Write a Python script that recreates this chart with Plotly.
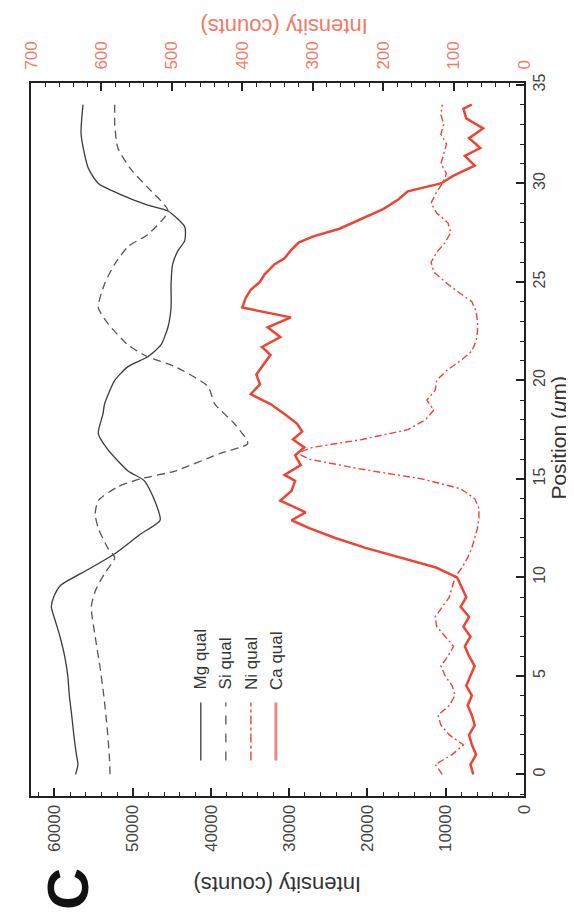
import plotly.graph_objects as go

# ---------------- data ----------------
mg_pos = [0.0, 0.5, 1.0, 1.9, 3.0, 4.0, 5.0, 6.0, 7.0, 7.8, 8.5, 9.0, 9.6, 10.4, 11.2, 12.2, 12.9,
          13.9, 14.9, 15.4, 16.5, 17.3, 18.3, 18.8, 20.0, 20.7, 21.2, 21.8, 22.7, 23.7, 24.9, 25.9,
          26.6, 27.1, 27.8, 28.6, 28.9, 29.5, 30.0, 30.8, 32.5, 34.0]
mg_val = [57300, 57000, 57200, 57500, 57800, 58100, 58300, 58700, 59300, 59900, 60400, 60100, 59200,
          55700, 52300, 49000, 46500, 47200, 48500, 50600, 53200, 54400, 53800, 53600, 52300, 50600,
          48100, 46400, 45500, 45100, 45100, 44900, 44200, 43350, 43350, 45500, 48100, 51900, 54400,
          55700, 56600, 56350]

si_pos = [0.0, 1.0, 2.5, 4.0, 5.5, 7.0, 8.5, 9.3, 10.2, 11.0, 11.5, 12.5, 13.2, 13.9, 14.6, 15.0,
          15.4, 16.3, 16.8, 17.8, 18.8, 19.7, 20.7, 21.2, 21.8, 22.9, 23.7, 24.9, 25.9, 26.8, 27.4,
          28.6, 29.8, 30.7, 31.8, 33.0, 34.0]
si_val = [52900, 53000, 53300, 53700, 54200, 54800, 55300, 54800, 53600, 52300, 53200, 54400, 54800,
          54400, 51900, 49000, 44600, 38800, 35300, 37000, 39500, 40400, 44600, 48100, 50600, 53200,
          54400, 53600, 52300, 50600, 48100, 45500, 48100, 50200, 51900, 52300, 52300]

ni_pos = [0.0, 0.5, 1.0, 1.5, 2.0, 2.5, 3.0, 3.5, 4.0, 4.5, 5.0, 5.5, 6.0, 6.5, 7.0, 7.5, 8.0, 8.5,
          9.0, 9.5, 10.0, 10.5, 11.0, 11.5, 12.0, 12.5, 13.0, 13.5, 14.0, 14.5, 15.0, 15.5, 16.0,
          16.3, 16.6, 17.0, 17.5, 18.0, 18.5, 19.0, 19.5, 20.0, 20.5, 21.0, 21.5, 22.0, 22.5, 23.0,
          23.5, 24.0, 24.5, 25.0, 25.5, 26.0, 26.5, 27.0, 27.5, 28.0, 28.5, 29.0, 29.5, 30.0, 30.5,
          31.0, 31.5, 32.0, 32.5, 33.0, 33.5, 34.0]
ni_val = [116, 126, 102, 86, 106, 118, 122, 106, 98, 102, 112, 118, 108, 100, 112, 124, 126, 116,
          106, 102, 98, 88, 80, 74, 70, 66, 64, 64, 70, 90, 145, 232, 305,
          322, 300, 230, 165, 140, 128, 138, 126, 124, 110, 90, 74, 68, 66, 66,
          68, 74, 94, 112, 128, 132, 124, 112, 104, 108, 124, 132, 125, 116, 110,
          118, 114, 110, 118, 114, 118, 116]

ca_pos = [0.0, 0.5, 1.0, 1.5, 2.0, 2.5, 3.0, 3.5, 4.0, 4.5, 5.0, 5.5, 6.0, 6.5, 7.0, 7.5, 8.0, 8.5,
          9.0, 9.5, 10.0, 10.5, 11.0, 11.5, 12.0, 12.5, 12.9, 13.3, 13.9, 14.4, 14.9, 15.2, 15.7,
          16.2, 16.6, 17.0, 17.4, 17.8, 18.3, 18.8, 19.3, 19.8, 20.3, 20.8, 21.3, 21.7, 22.2, 22.7,
          23.2, 23.7, 24.2, 24.6, 25.0, 25.4, 25.9, 26.2, 26.6, 27.0, 27.3, 27.7, 28.2, 28.7, 29.2,
          29.6, 30.0, 30.4, 30.9, 31.4, 31.8, 32.3, 32.8, 33.3, 33.8, 34.0]
ca_val = [72, 76, 68, 74, 78, 70, 74, 80, 74, 82, 76, 70, 78, 84, 76, 86, 78, 90,
          82, 88, 95, 125, 175, 225, 268, 305, 330, 310, 346, 330, 325, 340, 317,
          325, 312, 328, 315, 322, 340, 360, 388, 375, 380, 370, 360, 372, 346, 364,
          331, 400, 395, 388, 375, 368, 354, 340, 331, 320, 300, 262, 230, 200, 178,
          165, 118, 100, 70, 84, 62, 78, 58, 82, 86, 74]

black_ticks = [0, 10000, 20000, 30000, 40000, 50000, 60000]
red_ticks = [0, 100, 200, 300, 400, 500, 600, 700]
pos_ticks = [0, 5, 10, 15, 20, 25, 30, 35]
legend_names = ["Mg qual", "Si qual", "Ni qual", "Ca qual"]

RED = "#ee4433"
RED_TXT = "#f07a66"
FONT = "Liberation Sans, Arial, sans-serif"

fig = go.Figure()
fig.add_trace(go.Scatter(x=mg_val, y=mg_pos, mode="lines", name="Mg qual",
                         line=dict(color="#3a3a3a", width=1.3, shape="spline", smoothing=0.6)))
fig.add_trace(go.Scatter(x=si_val, y=si_pos, mode="lines", name="Si qual",
                         line=dict(color="#555555", width=1.3, dash="8px,5px", shape="spline", smoothing=0.6)))
fig.add_trace(go.Scatter(x=ni_val, y=ni_pos, mode="lines", name="Ni qual", xaxis="x2",
                         line=dict(color=RED, width=1.4, dash="7px,3px,2px,3px")))
fig.add_trace(go.Scatter(x=ca_val, y=ca_pos, mode="lines", name="Ca qual", xaxis="x2",
                         line=dict(color=RED, width=2.5)))

fig.update_layout(
    width=574, height=914,
    margin=dict(l=23, r=58, t=75, b=126),
    paper_bgcolor="white", plot_bgcolor="white",
    showlegend=False,
    font=dict(family=FONT, size=14, color="#333333"),
    xaxis=dict(range=[63000, 0], tickvals=black_ticks, ticktext=[str(v) for v in black_ticks],
               tickangle=-90, ticks="inside", ticklen=8, tickwidth=1.5, tickcolor="#222",
               minor=dict(dtick=2000, ticks="inside", ticklen=4, tickcolor="#222", tickwidth=1),
               showline=True, linecolor="#222", linewidth=2, showgrid=False, zeroline=False,
               tickfont=dict(size=17, color="#444")),
    xaxis2=dict(range=[700, 0], overlaying="x", side="top", tickvals=red_ticks,
                ticktext=[str(v) for v in red_ticks], tickangle=-90, ticks="inside", ticklen=8,
                tickwidth=1.5, tickcolor="#222", ticklabelstandoff=8,
                minor=dict(dtick=20, ticks="inside", ticklen=4, tickcolor="#222", tickwidth=1),
                showline=True, linecolor="#222", linewidth=2, showgrid=False, zeroline=False,
                tickfont=dict(size=17, color=RED_TXT)),
    yaxis=dict(range=[-1.1, 35.1], side="right", tickvals=pos_ticks,
               ticktext=[str(v) for v in pos_ticks], tickangle=-90, ticks="inside", ticklen=8,
               tickwidth=1.5, tickcolor="#222",
               minor=dict(dtick=1, ticks="inside", ticklen=4, tickcolor="#222", tickwidth=1),
               showline=True, mirror=True, linecolor="#222", linewidth=2, showgrid=False,
               zeroline=False, tickfont=dict(size=16, color="#444")),
)

# axis titles (rotated like the reference)
fig.add_annotation(text="Intensity (counts)", xref="paper", yref="paper", x=0.5, y=-0.125,
                   xanchor="center", yanchor="middle",
                   textangle=180, showarrow=False, font=dict(size=22, color="#333"))
fig.add_annotation(text="Intensity (counts)", xref="paper", yref="paper", x=0.513, y=1.0785,
                   xanchor="center", yanchor="middle",
                   textangle=180, showarrow=False, font=dict(size=22, color=RED_TXT))
fig.add_annotation(text="Position (<i>\u03bc</i>m)", xref="paper", yref="paper", x=1.07, y=0.502,
                   xanchor="center", yanchor="middle",
                   textangle=-90, showarrow=False, font=dict(size=21, color="#333"))
fig.add_annotation(text="<b>C</b>", xref="paper", yref="paper", x=0.075, y=-0.13,
                   xanchor="center", yanchor="middle",
                   textangle=-90, showarrow=False, font=dict(size=58, color="#111"))

# hand-drawn rotated legend
leg_x = [41300, 38100, 34900, 31700]
leg_styles = [dict(color="#3a3a3a", width=1.3), dict(color="#555555", width=1.3, dash="dash"),
              dict(color=RED, width=1.4, dash="dashdot"), dict(color="#e98b80", width=3)]
for name, lx, st in zip(legend_names, leg_x, leg_styles):
    fig.add_shape(type="line", xref="x", yref="y", x0=lx, x1=lx, y0=0.7, y1=3.65, line=st)
    fig.add_annotation(text=name, xref="x", yref="y", x=lx, y=4.2, xanchor="center",
                       yanchor="bottom", textangle=-90, showarrow=False,
                       font=dict(size=17, color="#333"))

fig.write_html("out.html")
